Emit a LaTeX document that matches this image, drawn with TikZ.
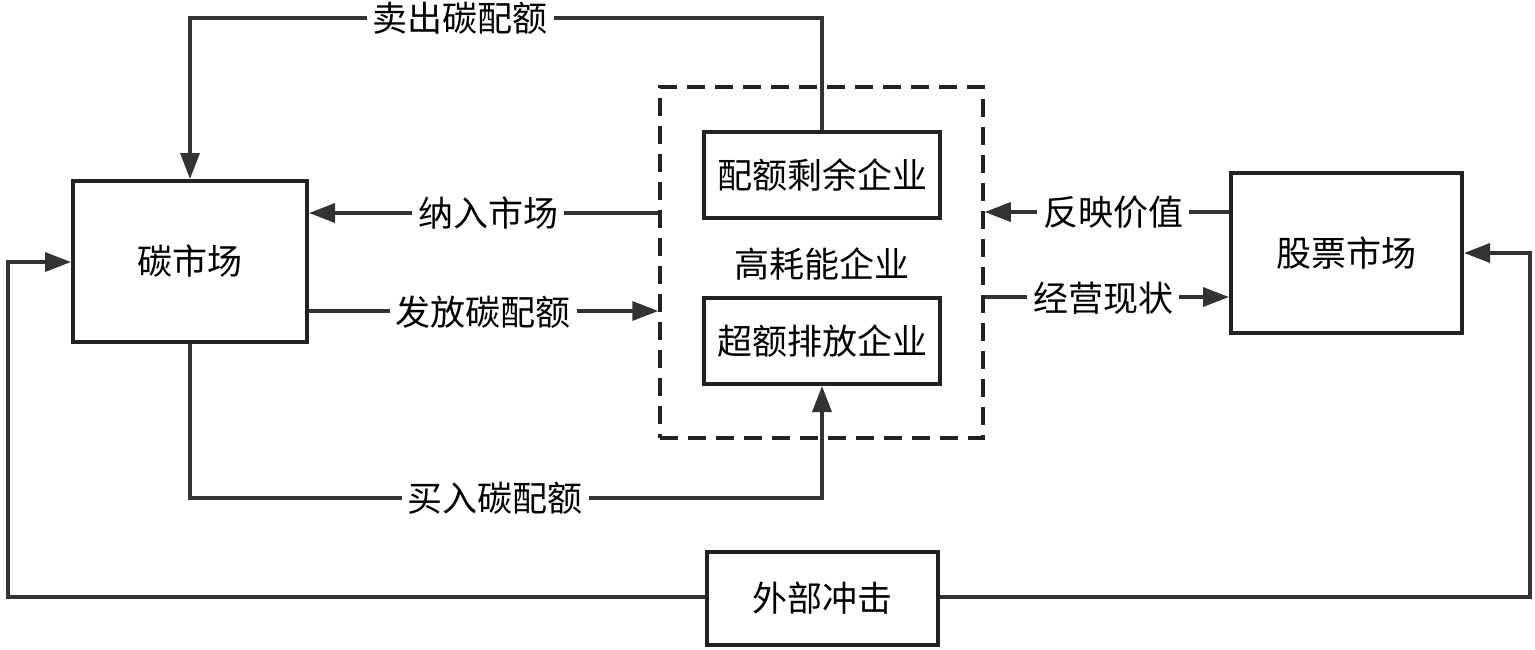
\documentclass[tikz,border=0pt]{standalone}
\usepackage{fontspec}
\setmainfont{Noto Sans CJK SC}
\usetikzlibrary{arrows.meta}
\definecolor{linegray}{HTML}{333333}
\definecolor{boxgray}{HTML}{222222}
\begin{document}
\begin{tikzpicture}[x=1pt,y=-1pt,
  txt/.style={font=\fontsize{35}{40}\selectfont, text=black},
  box/.style={draw=boxgray, line width=4pt, inner sep=0pt, txt},
  grp/.style={draw=boxgray, line width=3.5pt, dash pattern=on 18pt off 10pt, inner sep=0pt},
  conn/.style={draw=linegray, line width=3.5pt},
  arr/.style={conn, -{Triangle[length=26pt,width=19pt]}},
  lbl/.style={fill=white, inner xsep=6pt, inner ysep=2pt, txt}]
\fill[white] (0,0) rectangle (1535,649);
\useasboundingbox (0,0) rectangle (1535,649);

% nodes
\node[box, minimum width=234pt, minimum height=161pt] (carbon) at (190,261.5) {碳市场};
\node[grp, minimum width=323pt, minimum height=351pt] (group) at (821.5,262.5) {};
\node[box, fill=white, minimum width=236pt, minimum height=86pt] (surplus) at (822,175) {配额剩余企业};
\node[box, fill=white, minimum width=236pt, minimum height=86pt] (excess) at (822,341) {超额排放企业};
\node[txt] (glabel) at (822,264) {高耗能企业};
\node[box, minimum width=231pt, minimum height=160pt] (stock) at (1346.5,253) {股票市场};
\node[box, minimum width=231pt, minimum height=93pt] (shock) at (822.5,598.5) {外部冲击};

% helper coordinates
\coordinate (ytop) at (0,18);
\coordinate (yin) at (0,213);
\coordinate (yout) at (0,311);
\coordinate (yval) at (0,212);
\coordinate (yop) at (0,297);
\coordinate (ybuy) at (0,498);
\coordinate (ybot) at (0,597);
\coordinate (L) at (8,262);
\coordinate (R) at (1530,253);

% connectors
\draw[arr] (surplus.north) -- (surplus.north |- ytop) -- (carbon.north |- ytop) -- (carbon.north);
\node[lbl] (l1) at (460,18) {卖出碳配额};

\draw[arr] (group.west |- yin) -- (carbon.east |- yin);
\node[lbl] (l2) at (488,213) {纳入市场};

\draw[arr] (carbon.east |- yout) -- (group.west |- yout);
\node[lbl] (l3) at (483,312) {发放碳配额};

\draw[arr] (stock.west |- yval) -- (group.east |- yval);
\node[lbl] (l4) at (1113,212) {反映价值};

\draw[arr] (group.east |- yop) -- (stock.west |- yop);
\node[lbl] (l5) at (1103,298) {经营现状};

\draw[arr] (carbon.south) -- (carbon.south |- ybuy) -- (excess.south |- ybuy) -- (excess.south);
\node[lbl] (l6) at (495,498) {买入碳配额};

\draw[arr] (shock.west |- ybot) -| (L) -- (carbon.west |- L);
\draw[arr] (shock.east |- ybot) -| (R) -- (stock.east |- R);
\end{tikzpicture}
\end{document}
